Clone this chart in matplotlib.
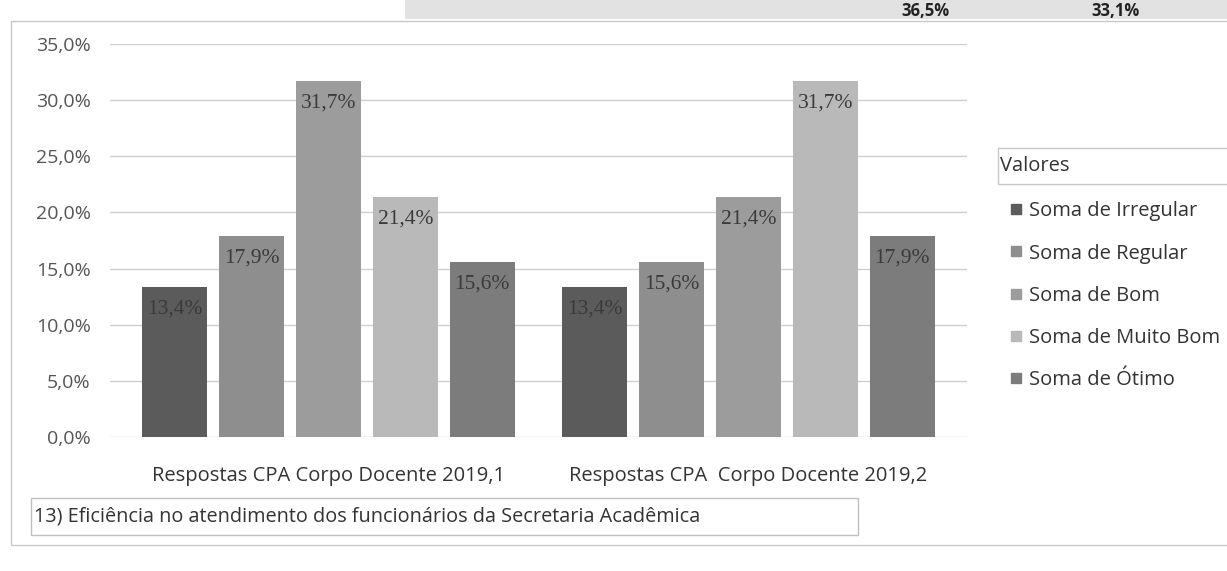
import numpy as np
import matplotlib.pyplot as plt
from matplotlib.patches import Rectangle
from matplotlib.lines import Line2D

# dados do gráfico
grupos = ['Respostas CPA Corpo Docente 2019,1', 'Respostas CPA  Corpo Docente 2019,2']
series = ['Soma de Irregular', 'Soma de Regular', 'Soma de Bom', 'Soma de Muito Bom', 'Soma de Ótimo']
valores_2019_1 = [13.4, 17.9, 31.7, 21.4, 15.6]
valores_2019_2 = [13.4, 15.6, 21.4, 31.7, 17.9]
cores = ['#5b5b5b', '#8e8e8e', '#9c9c9c', '#b9b9b9', '#7c7c7c']
yticks = [0, 5, 10, 15, 20, 25, 30, 35]
titulo = '13) Eficiência no atendimento dos funcionários da Secretaria Acadêmica'
topo = ['36,5%', '33,1%']  # resto da tabela de cima

plt.rcParams['font.family'] = ['Open Sans', 'DejaVu Sans']

fig = plt.figure(figsize=(12.27, 5.71), dpi=100)
ax = fig.add_axes([0.0897, 0.2347, 0.6983, 0.6883])

dados = np.array([valores_2019_1, valores_2019_2])
x = np.arange(len(grupos))
passo = 0.183
largura = 0.154

for i, nome in enumerate(series):
    pos = x + (i - 2) * passo
    ax.bar(pos, dados[:, i], width=largura, color=cores[i], zorder=2, label=nome)
    for xp, v in zip(pos, dados[:, i]):
        ax.text(xp, v - 2.0, f'{v:.1f}%'.replace('.', ','), ha='center', va='center',
                fontsize=15.5, color='#3a3a3a', family='Liberation Serif', zorder=3)

ax.set_ylim(0, 35)
ax.set_xlim(-0.52, 1.52)
ax.set_yticks(yticks)
ax.set_yticklabels([f'{t:.1f}%'.replace('.', ',') for t in yticks], fontsize=14, color='#555555')
ax.set_xticks(x)
ax.set_xticklabels(grupos, fontsize=14.5, color='#333333')
ax.tick_params(axis='both', length=0)
ax.tick_params(axis='x', pad=21)
ax.tick_params(axis='y', pad=14)
ax.grid(axis='y', color='#cfcfcf', lw=1, zorder=0)
for s in ax.spines.values():
    s.set_visible(False)

# legenda
handles = [Line2D([], [], marker='s', ls='none', markersize=7, color=c) for c in cores]
leg = fig.legend(handles, series, loc='upper left', bbox_to_anchor=(0.815, 0.665),
                 frameon=False, fontsize=14.5, handlelength=0.6, handletextpad=0.35,
                 labelspacing=1.1, borderpad=0)
for t in leg.get_texts():
    t.set_color('#333333')
fig.text(0.815, 0.71, 'Valores', fontsize=14.5, color='#333333', va='center')
fig.add_artist(Rectangle((0.813, 0.678), 0.19, 0.063, transform=fig.transFigure,
                         fill=False, ec='#c8c8c8', lw=1))

# caixa do título
fig.add_artist(Rectangle((0.025, 0.063), 0.674, 0.065, transform=fig.transFigure,
                         fill=False, ec='#c0c0c0', lw=1))
fig.text(0.028, 0.096, titulo, fontsize=14.3, color='#333333', va='center')

# borda do gráfico
fig.add_artist(Rectangle((0.009, 0.045), 1.0, 0.918, transform=fig.transFigure,
                         fill=False, ec='#c8c8c8', lw=1))

# faixa da tabela acima
fig.add_artist(Rectangle((0.33, 0.966), 0.67, 0.034, transform=fig.transFigure,
                         color='#e2e2e2', lw=0))
fig.text(0.754, 0.997, topo[0], fontsize=12, weight='bold', color='#222222', va='top', ha='center')
fig.text(0.909, 0.997, topo[1], fontsize=12, weight='bold', color='#222222', va='top', ha='center')

fig.savefig('out.png', dpi=100)
